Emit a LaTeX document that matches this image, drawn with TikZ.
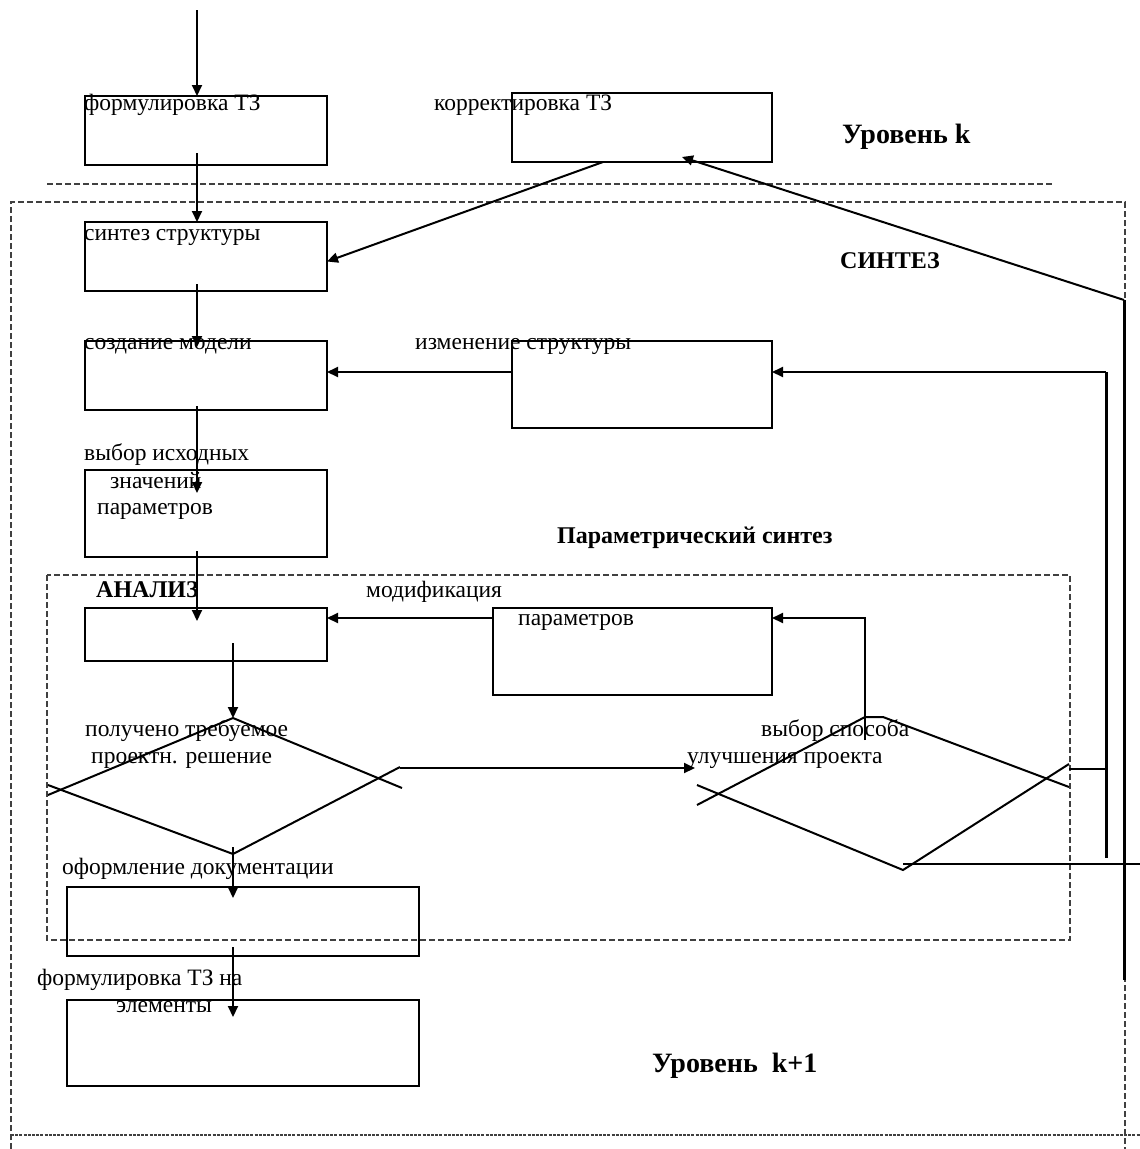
\documentclass[tikz,border=0pt]{standalone}
\usepackage{fontspec}
\setmainfont{Liberation Serif}
\usetikzlibrary{arrows.meta}
\begin{document}
\begin{tikzpicture}[x=1pt,y=-1pt,
  box/.style={draw, line width=2pt, inner sep=0pt, outer sep=0pt, anchor=north west},
  lbl/.style={anchor=base west, inner sep=0pt, font=\fontsize{23.5}{27}\selectfont},
  blbl/.style={anchor=base west, inner sep=0pt, font=\fontsize{24}{28}\selectfont\bfseries},
  lvl/.style={anchor=base west, inner sep=0pt, font=\fontsize{28}{32}\selectfont\bfseries},
  arr/.style={line width=2pt, -{Triangle[length=11pt,width=10pt]}},
  ln/.style={line width=2pt},
  heavy/.style={line width=3pt},
  dsh/.style={draw=black!75, line width=1.2pt, dash pattern=on 6pt off 3pt},
  dns/.style={draw=black!75, line width=1.4pt, dash pattern=on 3pt off 1.2pt},
]
\useasboundingbox[fill=white] (0,0) rectangle (1140,1149);

% dashed frames
\draw[dsh] (47,184) -- (1052,184);
\draw[dsh] (11,1149) -- (11,202) -- (1125,202) -- (1125,1149);
\draw[dns] (11,1135) -- (1140,1135);
\draw[dsh] (47,575) rectangle (1070,940);

% boxes
\node[box, minimum width=242pt, minimum height=69pt] (b1) at (85,96) {};
\node[box, minimum width=260pt, minimum height=69pt] (b2) at (512,93) {};
\node[box, minimum width=242pt, minimum height=69pt] (b3) at (85,222) {};
\node[box, minimum width=242pt, minimum height=69pt] (b4) at (85,341) {};
\node[box, minimum width=260pt, minimum height=87pt] (b5) at (512,341) {};
\node[box, minimum width=242pt, minimum height=87pt] (b6) at (85,470) {};
\node[box, minimum width=242pt, minimum height=53pt] (b7) at (85,608) {};
\node[box, minimum width=279pt, minimum height=87pt] (b8) at (493,608) {};
\node[box, minimum width=352pt, minimum height=69pt] (b9) at (67,887) {};
\node[box, minimum width=352pt, minimum height=86pt] (b10) at (67,1000) {};

% diamond 1 (drawn as crossing strokes)
\coordinate (d1t) at (233,718);
\coordinate (d1b) at (233,854);
\coordinate (d1l1) at (48,795);
\coordinate (d1l2) at (48,785);
\coordinate (d1r1) at (402,788);
\coordinate (d1r2) at (400,767);
\draw[ln] (d1t) -- (d1l1);
\draw[ln] (d1l2) -- (d1b);
\draw[ln] (d1b) -- (d1r2);
\draw[ln] (d1t) -- (d1r1);

% diamond 2
\coordinate (d2t1) at (865,717);
\coordinate (d2t2) at (883,717);
\coordinate (d2l1) at (697,805);
\coordinate (d2l2) at (697,785);
\coordinate (d2r1) at (1069,787);
\coordinate (d2r2) at (1069,764);
\coordinate (d2b) at (903,870);
\draw[ln] (d2l1) -- (d2t1) -- (d2t2) -- (d2r1);
\draw[ln] (d2l2) -- (d2b) -- (d2r2);

% heavy right lines
\coordinate (v1t) at (1106,372);
\coordinate (v1b) at (1106,858);
\coordinate (v2t) at (1124,300);
\coordinate (v2b) at (1124,980);
\draw[heavy] (v1t) -- (v1b);
\draw[heavy] (v2t) -- (v2b);
\coordinate (h1) at (1069,769);
\draw[ln] (h1) -- (h1 -| v1t);
\coordinate (h2a) at (903,864);
\coordinate (h2b) at (1140,864);
\draw[line width=2.5pt] (h2a) -- (h2b);

% connectors
\coordinate (top) at (197,10);
\draw[arr] (top) -- (top |- b1.north);
\coordinate (s1) at (197,153);
\draw[arr] (s1) -- (s1 |- b3.north);
\coordinate (s2) at (603,162);
\draw[arr] (s2) -- ([yshift=-5pt]b3.east);
\coordinate (t2) at (682,157);
\draw[arr] (v2t) -- (t2);
\coordinate (s3) at (197,284);
\coordinate (t3) at (197,347);
\draw[arr] (s3) -- (t3);
\coordinate (y372) at (0,372);
\draw[arr] (b5.west |- y372) -- (b4.east |- y372);
\draw[arr] (v1t) -- (b5.east |- v1t);
\coordinate (s4) at (197,406);
\coordinate (t4) at (197,493);
\draw[arr] (s4) -- (t4);
\coordinate (s5) at (197,551);
\coordinate (t5) at (197,621);
\draw[arr] (s5) -- (t5);
\coordinate (y618) at (0,618);
\draw[arr] (b8.west |- y618) -- (b7.east |- y618);
\coordinate (s6) at (865,740);
\draw[arr] (s6) -- (865,618) -- (b8.east |- y618);
\coordinate (s7) at (233,643);
\draw[arr] (s7) -- (d1t);
\coordinate (s8) at (400,768);
\coordinate (t8) at (695,768);
\draw[arr] (s8) -- (t8);
\coordinate (s9) at (233,847);
\draw[arr] (s9) -- (233,898);
\coordinate (s10) at (233,947);
\draw[arr] (s10) -- (233,1017);

% texts
\node[lbl] (tx1) at (84,110) {формулировка ТЗ};
\node[lbl] (tx2) at (434,110) {корректировка ТЗ};
\node[lvl] (tx3) at (842,143) {Уровень k};
\node[lbl] (tx4) at (84,240) {синтез структуры};
\node[blbl] (tx5) at (840,268) {СИНТЕЗ};
\node[lbl] (tx6) at (84,349) {создание модели};
\node[lbl] (tx7) at (415,349) {изменение структуры};
\node[lbl] (tx8) at (84,460) {выбор исходных};
\node[lbl] (tx9) at (110,488) {значений};
\node[lbl] (tx10) at (97,514) {параметров};
\node[blbl] (tx11) at (557,543) {Параметрический синтез};
\node[blbl] (tx12) at (96,597) {АНАЛИЗ};
\node[lbl] (tx13) at (366,597) {модификация};
\node[lbl] (tx14) at (518,625) {параметров};
\node[lbl] (tx15) at (85,736) {получено требуемое};
\node[lbl] (tx16) at (91,763) {проектн. решение};
\node[lbl] (tx17) at (761,736) {выбор способа};
\node[lbl] (tx18) at (687,763) {улучшения проекта};
\node[lbl] (tx19) at (62,874) {оформление документации};
\node[lbl] (tx20) at (37,985) {формулировка ТЗ на};
\node[lbl] (tx21) at (116,1012) {элементы};
\node[lvl] (tx22) at (652,1072) {Уровень\ \ k+1};
\end{tikzpicture}
\end{document}
